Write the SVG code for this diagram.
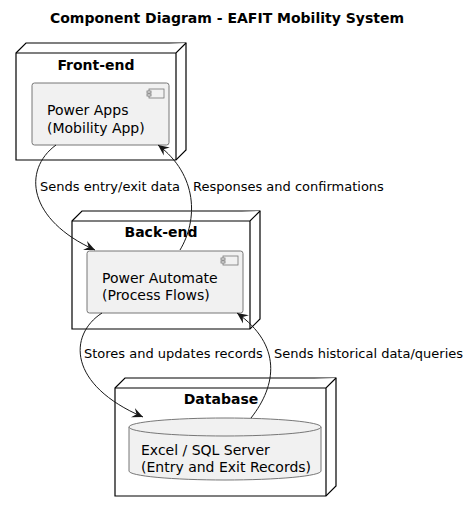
<svg xmlns="http://www.w3.org/2000/svg" width="469" height="512" viewBox="0 0 469 512">
<defs>
<style>
.title{font-family:"DejaVu Sans",sans-serif;font-size:14px;font-weight:bold;fill:#000}
.ntitle{font-family:"DejaVu Sans",sans-serif;font-size:14px;font-weight:bold;fill:#000}
.ctext{font-family:"DejaVu Sans",sans-serif;font-size:14px;fill:#000}
.lbl{font-family:"DejaVu Sans",sans-serif;font-size:13px;fill:#000}
.node{fill:#fff;stroke:#000;stroke-width:1.2}
.comp{fill:#F1F1F1;stroke:#777;stroke-width:1}
.icon{fill:#F1F1F1;stroke:#777;stroke-width:0.8}
.edge{fill:none;stroke:#181818;stroke-width:1}
</style>
<marker id="arr" viewBox="-11 -6 12 12" refX="0" refY="0" markerWidth="12" markerHeight="12" markerUnits="userSpaceOnUse" orient="auto">
<path d="M0,0 L-11,-5 L-7,0 L-11,5 Z" fill="#181818"/>
</marker>
</defs>
<rect width="469" height="512" fill="#fff"/>
<text class="title" x="227" y="23" text-anchor="middle">Component Diagram - EAFIT Mobility System</text>

<g id="frontend">
<path class="node" d="M16,53 L26,43 L186,43 L186,150 L176,160 L16,160 Z"/>
<path class="node" d="M16,53 L176,53 L186,43 M176,53 L176,160" fill="none"/>
<text class="ntitle" x="96" y="70" text-anchor="middle">Front-end</text>
</g>
<g id="powerapps">
<rect class="comp" x="32" y="83" width="137" height="62" rx="2.5"/>
<rect class="icon" x="149" y="89" width="15" height="9"/>
<rect class="icon" x="147" y="91" width="4" height="2"/>
<rect class="icon" x="147" y="94" width="4" height="2"/>
<text class="ctext" x="47" y="115">Power Apps</text>
<text class="ctext" x="47" y="133">(Mobility App)</text>
</g>

<g id="backend">
<path class="node" d="M72,221 L82,211 L260,211 L260,319 L250,329 L72,329 Z"/>
<path class="node" d="M72,221 L250,221 L260,211 M250,221 L250,329" fill="none"/>
<text class="ntitle" x="161" y="237" text-anchor="middle">Back-end</text>
</g>
<g id="powerautomate">
<rect class="comp" x="87" y="251" width="156" height="62" rx="2.5"/>
<rect class="icon" x="223" y="256" width="15" height="9"/>
<rect class="icon" x="221" y="258" width="4" height="2"/>
<rect class="icon" x="221" y="261" width="4" height="2"/>
<text class="ctext" x="102" y="283">Power Automate</text>
<text class="ctext" x="102" y="300">(Process Flows)</text>
</g>

<g id="database">
<path class="node" d="M115,388 L125,378 L336,378 L336,486 L326,496 L115,496 Z"/>
<path class="node" d="M115,388 L326,388 L336,378 M326,388 L326,496" fill="none"/>
<text class="ntitle" x="221" y="404" text-anchor="middle">Database</text>
</g>
<g id="excel">
<path class="comp" d="M129,427 A96,9 0 0 1 321,427 L321,471 A96,9 0 0 1 129,471 Z"/>
<path class="comp" d="M129,427 A96,9 0 0 0 321,427" fill="none"/>
<text class="ctext" x="141" y="455">Excel / SQL Server</text>
<text class="ctext" x="141" y="472">(Entry and Exit Records)</text>
</g>

<g id="connectors">
<path class="edge" d="M56,145 C22,170 28,220 95,250" marker-end="url(#arr)"/>
<path class="edge" d="M180,250 C198,220 198,175 158,145" marker-end="url(#arr)"/>
<path class="edge" d="M102,313 C68,335 68,385 143,417" marker-end="url(#arr)"/>
<path class="edge" d="M251,418 C277,385 282,345 237,313" marker-end="url(#arr)"/>
<text class="lbl" x="40" y="191">Sends entry/exit data</text>
<text class="lbl" x="193" y="191">Responses and confirmations</text>
<text class="lbl" x="84" y="358">Stores and updates records</text>
<text class="lbl" x="274" y="358">Sends historical data/queries</text>
</g>
</svg>
